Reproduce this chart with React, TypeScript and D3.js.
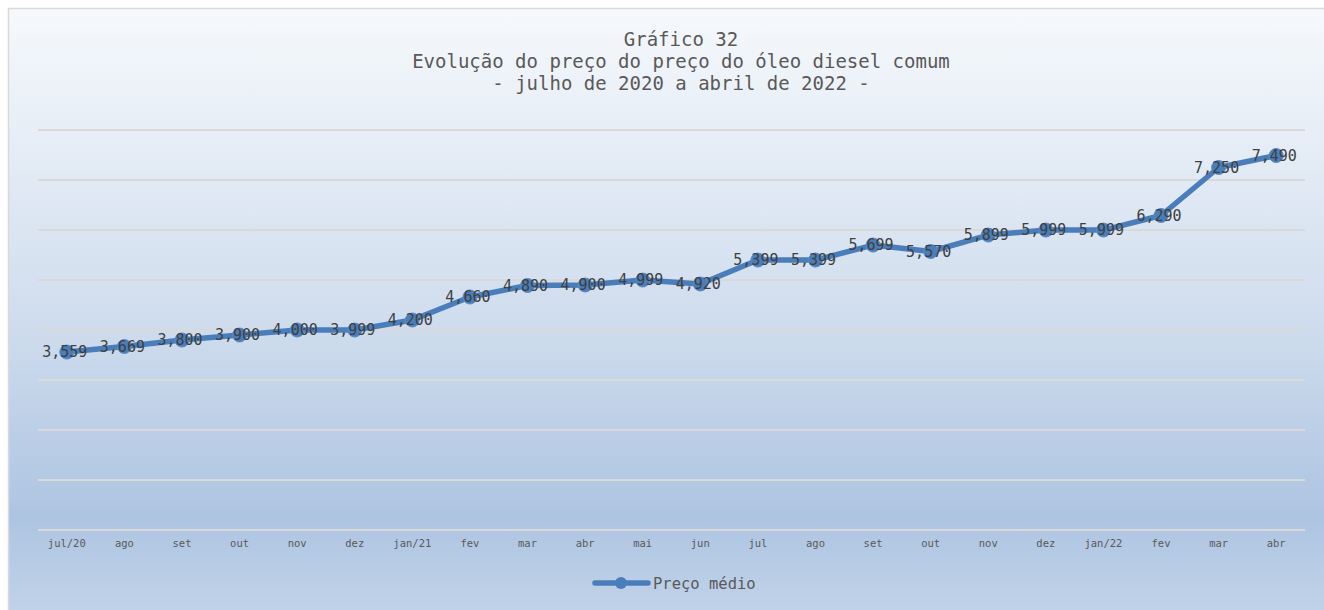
import React from "react";
import * as d3 from "d3";

const categories = ["jul/20","ago","set","out","nov","dez","jan/21","fev","mar","abr","mai","jun","jul","ago ","set ","out ","nov ","dez ","jan/22","fev ","mar ","abr "];
const precoMedio = [3.559,3.669,3.8,3.9,4.0,3.999,4.2,4.66,4.89,4.9,4.999,4.92,5.399,5.399,5.699,5.57,5.899,5.999,5.999,6.29,7.25,7.49];
const gridTicks = [0,1,2,3,4,5,6,7,8];
const titleLines = ["Gráfico 32","Evolução do preço do preço do óleo diesel comum","- julho de 2020 a abril de 2022 -"];
const seriesName = "Preço médio";

const W = 1324, H = 610;
const FONT = "'DejaVu Sans Mono', monospace";
const BLUE = "#4a7ebb";

export default function App() {
  const x = d3.scaleBand().domain(categories).range([38, 1305]);
  const y = d3.scaleLinear().domain([0, 8]).range([530, 130]);
  const cx = (i: number) => (x(categories[i]) as number) + x.bandwidth() / 2;
  const line = d3.line<number>().x((_, i) => cx(i)).y((d) => y(d));
  const fmt = (v: number) => d3.format(".3f")(v).replace(".", ",");
  return (
    <svg width={W} height={H} style={{ position: "absolute", left: 0, top: 0 }}>
      <defs>
        <linearGradient id="bg" x1="0" y1="0" x2="0" y2="1">
          <stop offset="0" stopColor="#f6f9fc" />
          <stop offset="0.5" stopColor="#d0ddee" />
          <stop offset="0.82" stopColor="#adc4e1" />
          <stop offset="1" stopColor="#c4d5ea" />
        </linearGradient>
      </defs>
      <rect x={0} y={0} width={W} height={H} fill="#ffffff" />
      <rect x={8.5} y={8.5} width={W + 10} height={H + 10} fill="url(#bg)" stroke="#d9d9d9" strokeWidth={1.5} />
      {titleLines.map((t, i) => (
        <text key={i} x={681} y={46 + i * 22} textAnchor="middle" fontFamily={FONT} fontSize={19} fill="#595959">{t}</text>
      ))}
      {gridTicks.map((t) => (
        <line key={t} x1={38} x2={1305} y1={y(t)} y2={y(t)} stroke="#d9d9d9" strokeWidth={2} />
      ))}
      {categories.map((c, i) => (
        <text key={c} x={cx(i)} y={547} textAnchor="middle" fontFamily={FONT} fontSize={10.5} fill="#595959">{c.trim()}</text>
      ))}
      <path d={line(precoMedio) || ""} fill="none" stroke={BLUE} strokeWidth={5.5} strokeLinejoin="round" strokeLinecap="round" />
      {precoMedio.map((v, i) => (
        <circle key={i} cx={cx(i)} cy={y(v)} r={7} fill={BLUE} stroke="#5a8ac6" strokeWidth={1} />
      ))}
      {precoMedio.map((v, i) => (
        <text key={i} x={cx(i) - 2} y={y(v) + 5} textAnchor="middle" fontFamily={FONT} fontSize={15} fill="#404040">{fmt(v)}</text>
      ))}
      <line x1={595} x2={648} y1={583} y2={583} stroke={BLUE} strokeWidth={5.5} strokeLinecap="round" />
      <circle cx={621} cy={583} r={6} fill={BLUE} />
      <text x={653} y={588.5} fontFamily={FONT} fontSize={15.5} fill="#595959">{seriesName}</text>
    </svg>
  );
}
